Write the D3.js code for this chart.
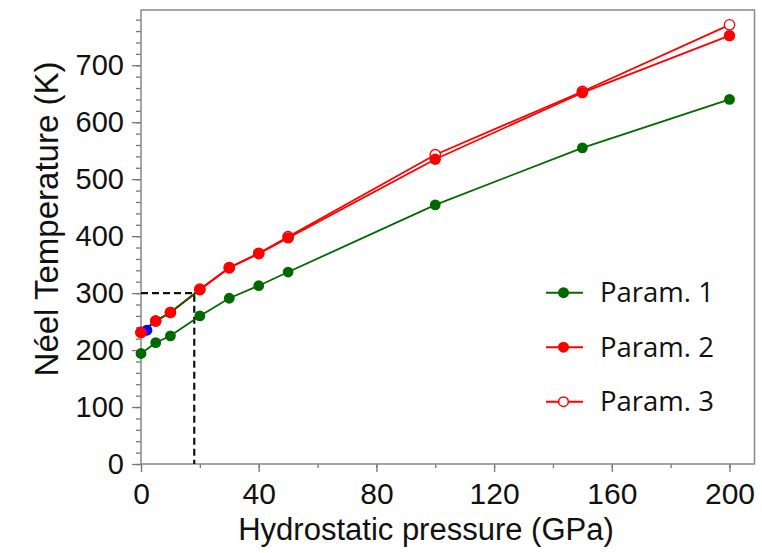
<!doctype html>
<html>
  <head>
    <script src="https://cdnjs.cloudflare.com/ajax/libs/d3/7.8.5/d3.min.js"></script>
  <style>
    body { margin: 0; background: #fff; }
    .tick text { font-family: "Liberation Sans", Arial, sans-serif; fill: #111; }
    .axis path.domain { stroke: none; }
    .axis line { stroke: #777; stroke-width: 1.3; }
  </style>
  </head>
  <body>
    <svg id="chart" width="762" height="553"></svg>
    <script>
      // values
      var pressure = [0, 5, 10, 20, 30, 40, 50, 100, 150, 200];
      var param1 = [194, 213, 225, 260, 291, 313, 337, 455, 555, 640];
      var param2 = [231, 251, 266, 306, 344, 369, 397, 535, 652, 752];
      var param3 = [231, 251, 266, 307, 345, 370, 399, 543, 654, 771];
      var bluePressure = [2];
      var blueTemp = [235];
      var guidePressure = 18.1;
      var guideTemp = 300;
      var xTicks = [0, 40, 80, 120, 160, 200];
      var yTicks = [0, 100, 200, 300, 400, 500, 600, 700];
      var legendLabels = ["Param. 1", "Param. 2", "Param. 3"];

      var green = "#006a00", red = "#ff0000";
      var svg = d3.select("#chart");

      var xScale = d3.scaleLinear().domain([0, 208.5]).range([141, 754.5]);
      var yScale = d3.scaleLinear().domain([0, 797]).range([464, 10]);

      // minor ticks
      svg.append("g").attr("class", "axis")
        .attr("transform", "translate(0,464)")
        .call(d3.axisBottom(xScale).tickValues(d3.range(0, 201, 20)).tickSize(4).tickFormat(""));
      svg.append("g").attr("class", "axis")
        .attr("transform", "translate(141,0)")
        .call(d3.axisLeft(yScale).tickValues(d3.range(0, 781, 20)).tickSize(5).tickFormat(""));

      // major ticks + labels
      svg.append("g").attr("class", "axis")
        .attr("transform", "translate(0,464)")
        .call(d3.axisBottom(xScale).tickValues(xTicks).tickSize(8).tickPadding(11))
        .selectAll("text").style("font-size", "30px");
      svg.append("g").attr("class", "axis")
        .attr("transform", "translate(141,0)")
        .call(d3.axisLeft(yScale).tickValues(yTicks).tickSize(9).tickPadding(8))
        .selectAll("text").style("font-size", "29px");

      // frame
      svg.append("rect")
        .attr("x", xScale(0)).attr("y", yScale(797))
        .attr("width", xScale(208.5) - xScale(0))
        .attr("height", yScale(0) - yScale(797))
        .attr("fill", "none").attr("stroke", "#888").attr("stroke-width", 1.5);

      // dashed guide at 300 K
      svg.append("path")
        .attr("d", "M" + xScale(0) + "," + yScale(guideTemp) +
                   "H" + xScale(guidePressure) + "V" + yScale(0))
        .attr("fill", "none").attr("stroke", "#111")
        .attr("stroke-width", 2.2).attr("stroke-dasharray", "7,4");

      function pts(ys) { return pressure.map((p, i) => [p, ys[i]]); }
      var line = d3.line().x(d => xScale(d[0])).y(d => yScale(d[1]));

      svg.append("path").attr("d", line(pts(param3)))
        .attr("fill", "none").attr("stroke", red).attr("stroke-width", 1.8);
      svg.append("path").attr("d", line(pts(param2)))
        .attr("fill", "none").attr("stroke", red).attr("stroke-width", 1.8);
      svg.append("path").attr("d", line(pts(param1)))
        .attr("fill", "none").attr("stroke", green).attr("stroke-width", 1.8);
      // low-pressure part of Param. 2 is joined in green
      svg.append("path").attr("d", line(pts(param2).filter(d => d[0] <= 20)))
        .attr("fill", "none").attr("stroke", green).attr("stroke-width", 1.8);

      svg.selectAll("circle.p3").data(pts(param3)).enter().append("circle")
        .attr("class", "p3").attr("r", 5.2)
        .attr("cx", d => xScale(d[0])).attr("cy", d => yScale(d[1]))
        .attr("fill", "#fff").attr("stroke", red).attr("stroke-width", 1.3);

      svg.selectAll("circle.blue").data(bluePressure).enter().append("circle")
        .attr("class", "blue").attr("r", 5.5)
        .attr("cx", d => xScale(d)).attr("cy", (d, i) => yScale(blueTemp[i]))
        .attr("fill", "#0000ff");

      svg.selectAll("circle.p2").data(pts(param2)).enter().append("circle")
        .attr("class", "p2").attr("r", 5.7)
        .attr("cx", d => xScale(d[0])).attr("cy", d => yScale(d[1]))
        .attr("fill", red);

      svg.selectAll("circle.p1").data(pts(param1)).enter().append("circle")
        .attr("class", "p1").attr("r", 5.4)
        .attr("cx", d => xScale(d[0])).attr("cy", d => yScale(d[1]))
        .attr("fill", green);

      // axis titles
      svg.append("text")
        .attr("x", 426).attr("y", 540)
        .attr("text-anchor", "middle")
        .style("font-family", "'Liberation Sans', Arial, sans-serif")
        .style("font-size", "31px").style("fill", "#111")
        .text("Hydrostatic pressure (GPa)");
      svg.append("text")
        .attr("transform", "translate(58,219) rotate(-90)")
        .attr("text-anchor", "middle")
        .style("font-family", "'Liberation Sans', Arial, sans-serif")
        .style("font-size", "33px").style("fill", "#111")
        .text("Néel Temperature (K)");

      // legend
      var legendColors = [green, red, red];
      var legendFill = [green, red, "#fff"];
      var legend = svg.selectAll("g.legend").data(legendLabels).enter().append("g")
        .attr("class", "legend")
        .attr("transform", (d, i) => "translate(546," + (292.7 + i * 54.5) + ")");
      legend.append("line")
        .attr("x1", 0).attr("x2", 37).attr("y1", 0).attr("y2", 0)
        .attr("stroke", (d, i) => legendColors[i]).attr("stroke-width", 2);
      legend.append("circle")
        .attr("cx", 17.5).attr("cy", 0).attr("r", (d, i) => i == 2 ? 4.8 : 5.5)
        .attr("fill", (d, i) => legendFill[i])
        .attr("stroke", (d, i) => legendColors[i]).attr("stroke-width", (d, i) => i == 2 ? 1.5 : 0);
      legend.append("text")
        .attr("x", 54).attr("y", 9.5)
        .style("font-family", "'Open Sans', sans-serif")
        .style("font-size", "27.5px").style("fill", "#111")
        .text(d => d);
    </script>
  </body>
</html>
